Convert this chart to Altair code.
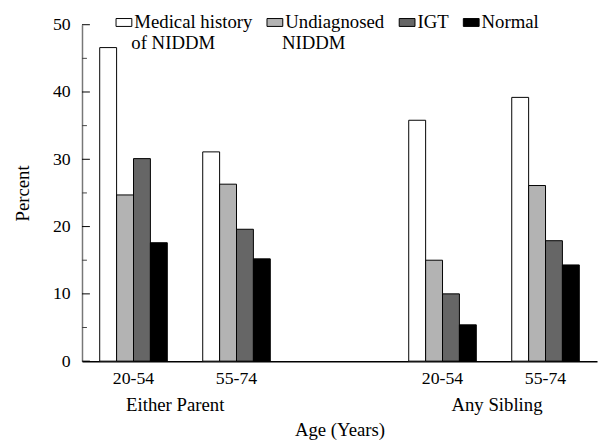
import altair as alt
import pandas as pd

groups = ["Either Parent", "Either Parent", "Any Sibling", "Any Sibling"]
ages = ["20-54", "55-74", "20-54", "55-74"]
series = ["Medical history of NIDDM", "Undiagnosed NIDDM", "IGT", "Normal"]
legend_first_lines = ["Medical history", "Undiagnosed", "IGT", "Normal"]
legend_second_lines = ["of NIDDM", "NIDDM"]
colors = ["#ffffff", "#b3b3b3", "#666666", "#000000"]
values = {
    "Medical history of NIDDM": [46.6, 31.1, 35.8, 39.2],
    "Undiagnosed NIDDM": [24.7, 26.3, 15.0, 26.1],
    "IGT": [30.1, 19.6, 10.0, 17.9],
    "Normal": [17.6, 15.2, 5.4, 14.3],
}
major_ticks = [0, 10, 20, 30, 40, 50]
minor_ticks = [5, 15, 25, 35, 45]

keys = [g + " " + a for g, a in zip(groups, ages)]
x_domain = [keys[0], keys[1], "", keys[2], keys[3]]

rows = []
for s in series:
    for k, g, a, v in zip(keys, groups, ages, values[s]):
        rows.append({"key": k, "group": g, "age": a, "series": s, "value": v})
df = pd.DataFrame(rows)

FONT = "Liberation Serif"
W, H = 522, 341

xscale = alt.Scale(domain=x_domain, paddingInner=0.344, paddingOuter=0.172)
yscale = alt.Scale(domain=[0, 50], nice=False)

label_expr = " : ".join(
    f"datum.label == '{s}' ? '{f}'" for s, f in zip(series[:-1], legend_first_lines[:-1])
) + f" : '{legend_first_lines[-1]}'"

bars = alt.Chart(df).mark_bar(stroke="black", strokeWidth=1).encode(
    x=alt.X("key:N", scale=xscale, sort=x_domain,
            axis=alt.Axis(title="Age (Years)", labelExpr="slice(datum.value, -5)",
                          ticks=False, labelAngle=0, labelPadding=9,
                          labelFontSize=18, titleFontSize=19, titlePadding=33,
                          titleFontWeight="normal", domainColor="black",
                          domainWidth=1.5, labelColor="black", titleColor="black")),
    xOffset=alt.XOffset("series:N", sort=series, scale=alt.Scale(paddingInner=0, paddingOuter=0)),
    y=alt.Y("value:Q", scale=yscale,
            axis=alt.Axis(title="Percent", values=major_ticks, ticks=False,
                          labelPadding=12, labelFontSize=18, titleFontSize=19,
                          titlePadding=20, titleFontWeight="normal",
                          domainColor="#777777", domainWidth=1.5, grid=False,
                          labelColor="black", titleColor="black")),
    fill=alt.Fill("series:N", sort=series,
                  scale=alt.Scale(domain=series, range=colors),
                  legend=alt.Legend(
                      title=None, orient="none", legendX=33, legendY=-12,
                      direction="horizontal", columns=4, columnPadding=12,
                      symbolType="M-1,-0.5H1V0.5H-1Z", symbolSize=256,
                      symbolStrokeColor="black", symbolStrokeWidth=1,
                      labelOffset=1, labelFontSize=19, labelFont=FONT,
                      labelLimit=0, labelColor="black",
                      labelExpr=label_expr, padding=0)),
)

major_df = pd.DataFrame({"v": major_ticks})
minor_df = pd.DataFrame({"v": minor_ticks})
major = alt.Chart(major_df).mark_rule(color="black", strokeWidth=1).encode(
    y=alt.Y("v:Q", scale=yscale), x=alt.value(0), x2=alt.value(8))
minor = alt.Chart(minor_df).mark_rule(color="#444444", strokeWidth=1).encode(
    y=alt.Y("v:Q", scale=yscale), x=alt.value(0), x2=alt.value(5))

l2a = alt.Chart(pd.DataFrame({"t": [legend_second_lines[0]]})).mark_text(
    font=FONT, fontSize=19, color="black", align="left", baseline="alphabetic").encode(
    x=alt.value(50), y=alt.value(25), text="t:N")
l2b = alt.Chart(pd.DataFrame({"t": [legend_second_lines[1]]})).mark_text(
    font=FONT, fontSize=19, color="black", align="left", baseline="alphabetic").encode(
    x=alt.value(202.6), y=alt.value(25), text="t:N")

g1 = pd.DataFrame({"key": [keys[0]], "label": [groups[0]]})
g2 = pd.DataFrame({"key": [keys[2]], "label": [groups[2]]})
t1 = alt.Chart(g1).mark_text(font=FONT, fontSize=19, color="black", baseline="middle", dx=8).encode(
    x=alt.X("key:N", scale=xscale, sort=x_domain, bandPosition=1),
    y=alt.value(H + 45), text="label:N")
t2 = alt.Chart(g2).mark_text(font=FONT, fontSize=19, color="black", baseline="middle", dx=21).encode(
    x=alt.X("key:N", scale=xscale, sort=x_domain, bandPosition=1),
    y=alt.value(H + 45), text="label:N")

chart = alt.layer(bars, major, minor, l2a, l2b, t1, t2).properties(
    width=W, height=H,
    autosize=alt.AutoSizeParams(type="none"),
    padding={"left": 75, "top": 14, "right": 2, "bottom": 78},
).configure(font=FONT).configure_view(stroke=None).configure_axis(
    labelFont=FONT, titleFont=FONT)

chart.save("out.html", embed_options={"renderer": "svg", "actions": False})
